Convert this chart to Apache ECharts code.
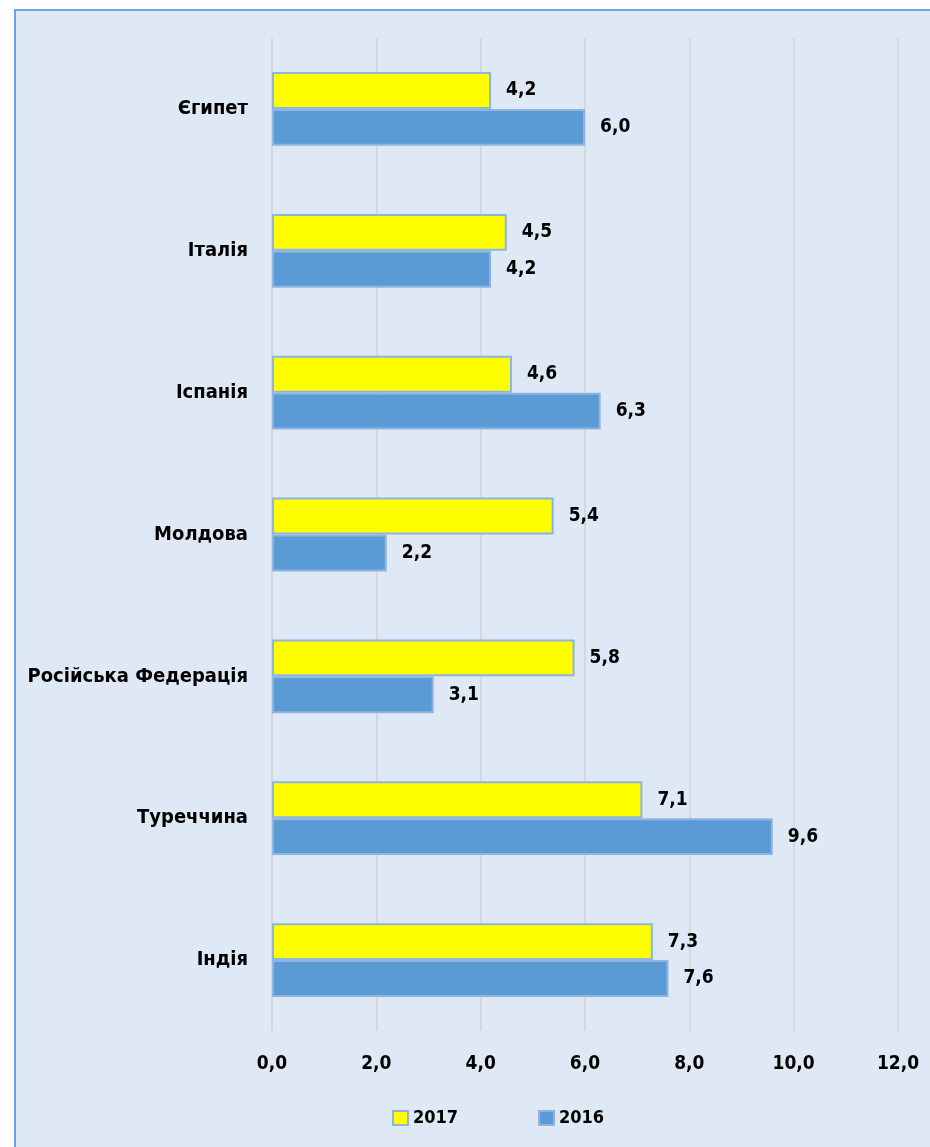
<!DOCTYPE html>
<html>
<head>
<meta charset="utf-8">
<script src="https://cdn.jsdelivr.net/npm/echarts@6/dist/echarts.min.js"></script>
<style>
  body { margin: 0; background: #ffffff; overflow: hidden; }
  #frame {
    position: absolute; left: 14px; top: 9px; width: 940px; height: 1160px;
    background: #dee9f5; border: 2px solid #6fa3dc;
  }
  #chart { position: absolute; left: 0; top: 0; width: 930px; height: 1147px; }
</style>
</head>
<body>
<div id="frame"></div>
<div id="chart"></div>
<script>
// країни (згори вниз)
const countries = ['Єгипет', 'Італія', 'Іспанія', 'Молдова', 'Російська Федерація', 'Туреччина', 'Індія']
const values2017 = [4.2, 4.5, 4.6, 5.4, 5.8, 7.1, 7.3]
const values2016 = [6.0, 4.2, 6.3, 2.2, 3.1, 9.6, 7.6]
const seriesNames = ['2017', '2016']
const xTicks = [0, 2, 4, 6, 8, 10, 12]

const fontFamily = '"DejaVu Sans Condensed", "DejaVu Sans", sans-serif'
const fmt = v => v.toFixed(1).replace('.', ',')

const chart = echarts.init(document.getElementById('chart'))

const labelStyle = {
  show: true,
  position: 'right',
  distance: 15,
  fontFamily: fontFamily,
  fontWeight: 'bold',
  fontSize: 19,
  color: '#000',
  formatter: p => fmt(p.value)
}

const option = {
  backgroundColor: 'transparent',
  textStyle: { fontFamily: fontFamily },
  grid: { left: 272, right: 32, top: 38, bottom: 116 },
  legend: {
    data: seriesNames,
    left: 392,
    top: 1109,
    padding: 0,
    itemWidth: 15,
    itemHeight: 14,
    itemGap: 80,
    itemTextGap: 6,
    icon: 'rect',
    textStyle: { fontFamily: fontFamily, fontWeight: 'bold', fontSize: 18, color: '#000' }
  },
  xAxis: {
    type: 'value',
    min: xTicks[0],
    max: xTicks[xTicks.length - 1],
    interval: 2,
    axisLine: { show: false },
    axisTick: { show: false },
    splitLine: { lineStyle: { color: '#d4d8dc', width: 2 } },
    axisLabel: {
      margin: 24,
      fontFamily: fontFamily,
      fontWeight: 'bold',
      fontSize: 19,
      color: '#000',
      formatter: v => fmt(v)
    }
  },
  yAxis: {
    type: 'category',
    data: countries,
    inverse: true,
    axisLine: { show: false },
    axisTick: { show: false },
    axisLabel: {
      margin: 24,
      fontFamily: fontFamily,
      fontWeight: 'bold',
      fontSize: 20,
      color: '#000'
    }
  },
  series: [
    {
      name: seriesNames[0],
      type: 'bar',
      data: values2017,
      barGap: '0%',
      barCategoryGap: '48%',
      itemStyle: { color: '#ffff00', borderColor: '#8db4e2', borderWidth: 2 },
      label: labelStyle
    },
    {
      name: seriesNames[1],
      type: 'bar',
      data: values2016,
      itemStyle: { color: '#5b9bd5', borderColor: '#8db4e2', borderWidth: 2 },
      label: labelStyle
    }
  ]
}

chart.setOption(option)
</script>
</body>
</html>
